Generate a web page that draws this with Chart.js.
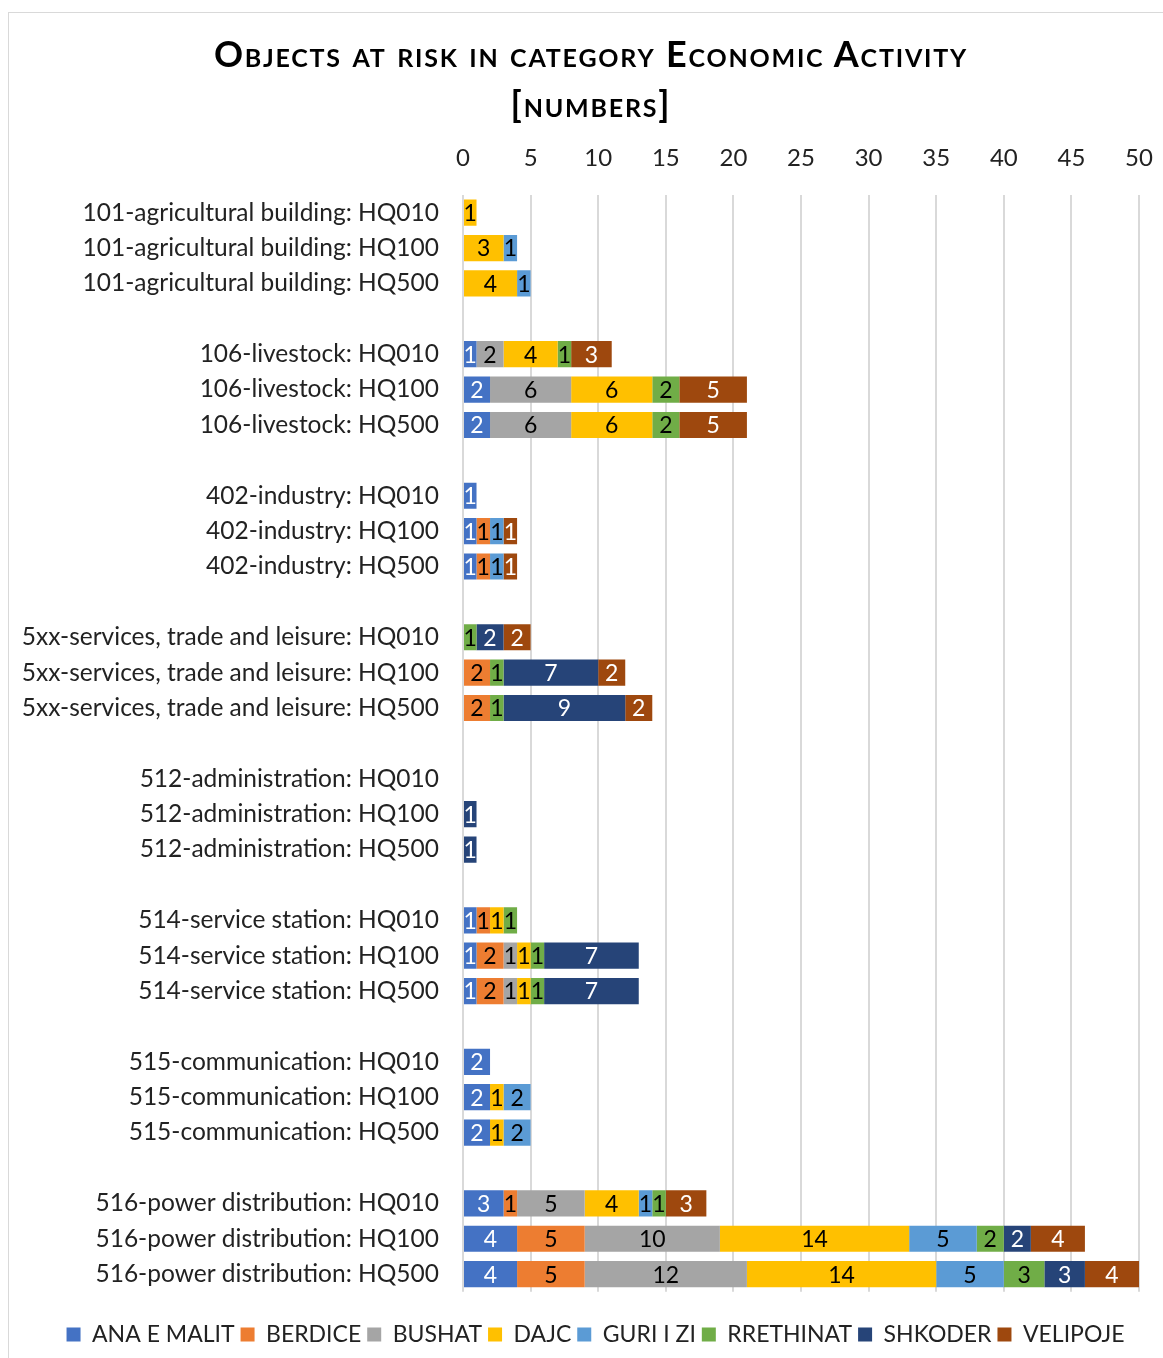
<!DOCTYPE html>
<html>
<head>
<meta charset="utf-8">
<script src="https://cdn.jsdelivr.net/npm/chart.js@4/dist/chart.umd.min.js"></script>
<style>
  body { margin: 0; background: #fff; }
  #frame {
    position: absolute; left: 8px; top: 12px; width: 1170px; height: 1360px;
    border: 1px solid #d9d9d9; box-sizing: border-box;
  }
  #title {
    position: absolute; left: 0; top: 28px; width: 1182px; text-align: center;
    font-family: Lato, "Open Sans", sans-serif; font-weight: bold; font-size: 36px;
    letter-spacing: 1.8px; font-variant: small-caps; line-height: 50px; color: #000;
  }
  #graficoRisco { position: absolute; left: 0; top: 0; }
</style>
</head>
<body>
<div id="frame"></div>
<canvas id="graficoRisco" width="1163" height="1358"></canvas>
<div id="title">Objects at risk in category Economic Activity<br>[numbers]</div>
<script>
const ctx = document.getElementById("graficoRisco");

const categorias = [
  "101-agricultural building: HQ010", "101-agricultural building: HQ100", "101-agricultural building: HQ500", "",
  "106-livestock: HQ010", "106-livestock: HQ100", "106-livestock: HQ500", "",
  "402-industry: HQ010", "402-industry: HQ100", "402-industry: HQ500", "",
  "5xx-services, trade and leisure: HQ010", "5xx-services, trade and leisure: HQ100", "5xx-services, trade and leisure: HQ500", "",
  "512-administration: HQ010", "512-administration: HQ100", "512-administration: HQ500", "",
  "514-service station: HQ010", "514-service station: HQ100", "514-service station: HQ500", "",
  "515-communication: HQ010", "515-communication: HQ100", "515-communication: HQ500", "",
  "516-power distribution: HQ010", "516-power distribution: HQ100", "516-power distribution: HQ500"
];

const anaEMalit = [null, null, null, null, 1, 2, 2, null, 1, 1, 1, null, null, null, null, null, null, null, null, null, 1, 1, 1, null, 2, 2, 2, null, 3, 4, 4];
const berdice   = [null, null, null, null, null, null, null, null, null, 1, 1, null, null, 2, 2, null, null, null, null, null, 1, 2, 2, null, null, null, null, null, 1, 5, 5];
const bushat    = [null, null, null, null, 2, 6, 6, null, null, null, null, null, null, null, null, null, null, null, null, null, null, 1, 1, null, null, null, null, null, 5, 10, 12];
const dajc      = [1, 3, 4, null, 4, 6, 6, null, null, null, null, null, null, null, null, null, null, null, null, null, 1, 1, 1, null, null, 1, 1, null, 4, 14, 14];
const guriIZi   = [null, 1, 1, null, null, null, null, null, null, 1, 1, null, null, null, null, null, null, null, null, null, null, null, null, null, null, 2, 2, null, 1, 5, 5];
const rrethinat = [null, null, null, null, 1, 2, 2, null, null, null, null, null, 1, 1, 1, null, null, null, null, null, 1, 1, 1, null, null, null, null, null, 1, 2, 3];
const shkoder   = [null, null, null, null, null, null, null, null, null, null, null, null, 2, 7, 9, null, null, 1, 1, null, null, 7, 7, null, null, null, null, null, null, 2, 3];
const velipoje  = [null, null, null, null, 3, 5, 5, null, null, 1, 1, null, 2, 2, 2, null, null, null, null, null, null, null, null, null, null, null, null, null, 3, 4, 4];

const ticksX = [0, 5, 10, 15, 20, 25, 30, 35, 40, 45, 50];

const series = [
  { label: "ANA E MALIT", data: anaEMalit, color: "#4472C4", text: "#ffffff" },
  { label: "BERDICE", data: berdice, color: "#ED7D31", text: "#000000" },
  { label: "BUSHAT", data: bushat, color: "#A5A5A5", text: "#000000" },
  { label: "DAJC", data: dajc, color: "#FFC000", text: "#000000" },
  { label: "GURI I ZI", data: guriIZi, color: "#5B9BD5", text: "#000000" },
  { label: "RRETHINAT", data: rrethinat, color: "#70AD47", text: "#000000" },
  { label: "SHKODER", data: shkoder, color: "#264478", text: "#ffffff" },
  { label: "VELIPOJE", data: velipoje, color: "#9E480E", text: "#ffffff" }
];

const FONT = "Lato, 'Open Sans', sans-serif";

// rotulos no meio de cada segmento (sem plugin externo)
const rotulos = {
  id: "rotulos",
  afterDatasetsDraw(chart) {
    const c = chart.ctx;
    c.save();
    c.font = "23px " + FONT;
    c.textAlign = "center";
    c.textBaseline = "middle";
    chart.data.datasets.forEach((ds, i) => {
      const meta = chart.getDatasetMeta(i);
      meta.data.forEach((bar, j) => {
        const v = ds.data[j];
        if (!v) return;
        c.fillStyle = series[i].text;
        c.fillText(String(v), (bar.x + bar.base) / 2, bar.y + 1);
      });
    });
    c.restore();
  }
};

// legenda um pouco deslocada para a direita, como no original
const legendaDesloc = {
  id: "legendaDesloc",
  afterLayout(chart) {
    chart.legend.left += 26;
    chart.legend.right += 26;
  }
};

new Chart(ctx, {
  type: "bar",
  data: {
    labels: categorias,
    datasets: series.map(s => ({
      label: s.label,
      data: s.data,
      backgroundColor: s.color,
      borderWidth: 0,
      barPercentage: 0.74,
      categoryPercentage: 1
    }))
  },
  options: {
    indexAxis: "y",
    responsive: false,
    animation: false,
    layout: { padding: { top: 140, right: 24, bottom: 2, left: 0 } },
    plugins: {
      title: { display: false },
      tooltip: { enabled: false },
      legend: {
        position: "bottom",
        title: { display: true, text: " ", font: { size: 1 }, padding: { top: 24, bottom: 0 } },
        labels: {
          font: { family: FONT, size: 23 },
          color: "#222",
          boxWidth: 14,
          boxHeight: 14,
          padding: 6
        }
      }
    },
    scales: {
      x: {
        position: "top",
        stacked: true,
        min: 0,
        max: 50,
        afterFit(scale) { scale.height = 55; },
        afterBuildTicks(scale) { scale.ticks = ticksX.map(v => ({ value: v })); },
        ticks: { font: { family: FONT, size: 24, lineHeight: 2.92 }, color: "#222", padding: 2 },
        grid: { color: "#d9d9d9", lineWidth: 2, drawTicks: false },
        border: { display: false }
      },
      y: {
        stacked: true,
        afterFit(scale) { scale.width = 463; },
        ticks: { font: { family: FONT, size: 24.5 }, color: "#222", padding: 24, autoSkip: false },
        grid: { display: false, drawTicks: false },
        border: { display: false }
      }
    }
  },
  plugins: [rotulos, legendaDesloc]
});
</script>
</body>
</html>
